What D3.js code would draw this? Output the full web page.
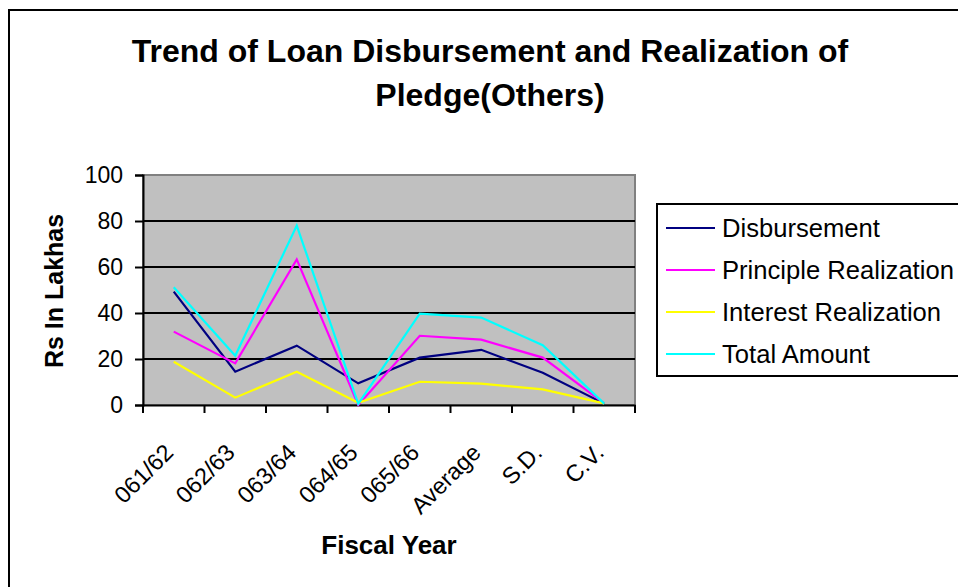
<!DOCTYPE html>
<html>
<head>
<meta charset="utf-8">
<script src="https://cdn.jsdelivr.net/npm/d3@7"></script>
<style>
  html, body { margin: 0; padding: 0; background: #fff; }
  svg { display: block; font-family: Arial, "Liberation Sans", sans-serif; }
</style>
</head>
<body>
<svg id="chart" width="958" height="587"></svg>
<script>
// Fiscal years plus summary statistics
const categories = ["061/62", "062/63", "063/64", "064/65", "065/66", "Average", "S.D.", "C.V."];

// Amounts in Rs lakhs
const disbursement = [49.3, 14.5, 25.8, 9.4, 20.6, 24.0, 14.0, 0.6];
const principleRealization = [31.9, 18.1, 63.3, 0.0, 30.1, 28.4, 20.6, 0.7];
const interestRealization = [18.8, 3.2, 14.5, 1.0, 10.1, 9.3, 6.8, 0.7];
const totalAmount = [51.2, 21.4, 78.0, 0.5, 39.7, 38.0, 26.0, 0.6];

const yTicks = [0, 20, 40, 60, 80, 100];

const series = [
  { name: "Disbursement", values: disbursement, color: "#000080" },
  { name: "Principle Realization", values: principleRealization, color: "#FF00FF" },
  { name: "Interest Realization", values: interestRealization, color: "#FFFF00" },
  { name: "Total  Amount", values: totalAmount, color: "#00FFFF" }
];

const svg = d3.select("#chart");

// Outer chart frame (runs off the right and bottom edges)
svg.append("rect")
  .attr("x", 9).attr("y", 10)
  .attr("width", 1000).attr("height", 640)
  .attr("fill", "#fff").attr("stroke", "#000").attr("stroke-width", 2);

const plot = { left: 143, right: 635, top: 175, bottom: 405 };

const x = d3.scaleBand().domain(categories).range([plot.left, plot.right]);
const y = d3.scaleLinear().domain([0, 100]).range([plot.bottom, plot.top]);

// Plot background
svg.append("rect")
  .attr("x", plot.left).attr("y", plot.top)
  .attr("width", plot.right - plot.left).attr("height", plot.bottom - plot.top)
  .attr("fill", "#C0C0C0").attr("stroke", "#808080").attr("stroke-width", 2);

// Horizontal gridlines
svg.append("g").selectAll("line")
  .data(yTicks.filter(d => d > 0 && d < 100))
  .join("line")
  .attr("x1", plot.left).attr("x2", plot.right)
  .attr("y1", d => y(d)).attr("y2", d => y(d))
  .attr("stroke", "#000").attr("stroke-width", 2);

// Y axis
const yAxis = svg.append("g")
  .attr("transform", `translate(${plot.left},0)`)
  .call(d3.axisLeft(y).tickValues(yTicks).tickSize(8).tickPadding(12));
yAxis.select(".domain").attr("stroke", "#000").attr("stroke-width", 2);
yAxis.selectAll(".tick line").attr("stroke", "#000").attr("stroke-width", 2);
yAxis.selectAll(".tick text")
  .attr("font-size", 23).attr("fill", "#000")
  .attr("font-family", "Arial, 'Liberation Sans', sans-serif");

// X axis: labels at band centres, ticks at band boundaries
const xAxis = svg.append("g")
  .attr("transform", `translate(0,${plot.bottom})`)
  .call(d3.axisBottom(x).tickSize(0).tickFormat(""));
xAxis.select(".domain").attr("stroke", "#000").attr("stroke-width", 2);

const boundaries = categories.map(c => x(c)).concat([x(categories[categories.length - 1]) + x.bandwidth()]);
svg.append("g").selectAll("line")
  .data(boundaries)
  .join("line")
  .attr("x1", d => d).attr("x2", d => d)
  .attr("y1", plot.bottom).attr("y2", plot.bottom + 8)
  .attr("stroke", "#000").attr("stroke-width", 2);

svg.append("g").selectAll("text")
  .data(categories)
  .join("text")
  .attr("transform", d => `translate(${x(d) + x.bandwidth() / 2 + 1},454) rotate(-45)`)
  .attr("text-anchor", "end")
  .attr("font-size", 23.5)
  .attr("fill", "#000")
  .text(d => d);

// Series lines
const line = d3.line()
  .x((d, i) => x(categories[i]) + x.bandwidth() / 2)
  .y(d => y(d));

svg.append("g").selectAll("path")
  .data(series)
  .join("path")
  .attr("d", d => line(d.values))
  .attr("fill", "none")
  .attr("stroke", d => d.color)
  .attr("stroke-width", 2.2)
  .attr("stroke-linejoin", "miter");

// Title
const title = svg.append("text")
  .attr("x", 490).attr("text-anchor", "middle")
  .attr("font-size", 32).attr("font-weight", "bold").attr("fill", "#000");
title.append("tspan").attr("x", 490).attr("y", 62).text("Trend of Loan Disbursement and Realization of");
title.append("tspan").attr("x", 490).attr("y", 106).text("Pledge(Others)");

// Axis titles
svg.append("text")
  .attr("transform", `translate(63,${(plot.top + plot.bottom) / 2 + 1}) rotate(-90)`)
  .attr("text-anchor", "middle")
  .attr("font-size", 25).attr("font-weight", "bold").attr("fill", "#000")
  .text("Rs In Lakhas");

svg.append("text")
  .attr("x", 389).attr("y", 554)
  .attr("text-anchor", "middle")
  .attr("font-size", 26).attr("font-weight", "bold").attr("fill", "#000")
  .text("Fiscal Year");

// Legend
const legend = svg.append("g");
legend.append("rect")
  .attr("x", 657).attr("y", 204)
  .attr("width", 400).attr("height", 172)
  .attr("fill", "#fff").attr("stroke", "#000").attr("stroke-width", 2);

const items = legend.selectAll("g.item")
  .data(series)
  .join("g")
  .attr("class", "item")
  .attr("transform", (d, i) => `translate(0,${228 + i * 42})`);
items.append("line")
  .attr("x1", 666).attr("x2", 715)
  .attr("y1", 0).attr("y2", 0)
  .attr("stroke", d => d.color).attr("stroke-width", 2);
items.append("text")
  .attr("x", 722).attr("y", 0).attr("dy", "0.35em")
  .attr("font-size", 25.6).attr("fill", "#000")
  .text(d => d.name);
</script>
</body>
</html>
